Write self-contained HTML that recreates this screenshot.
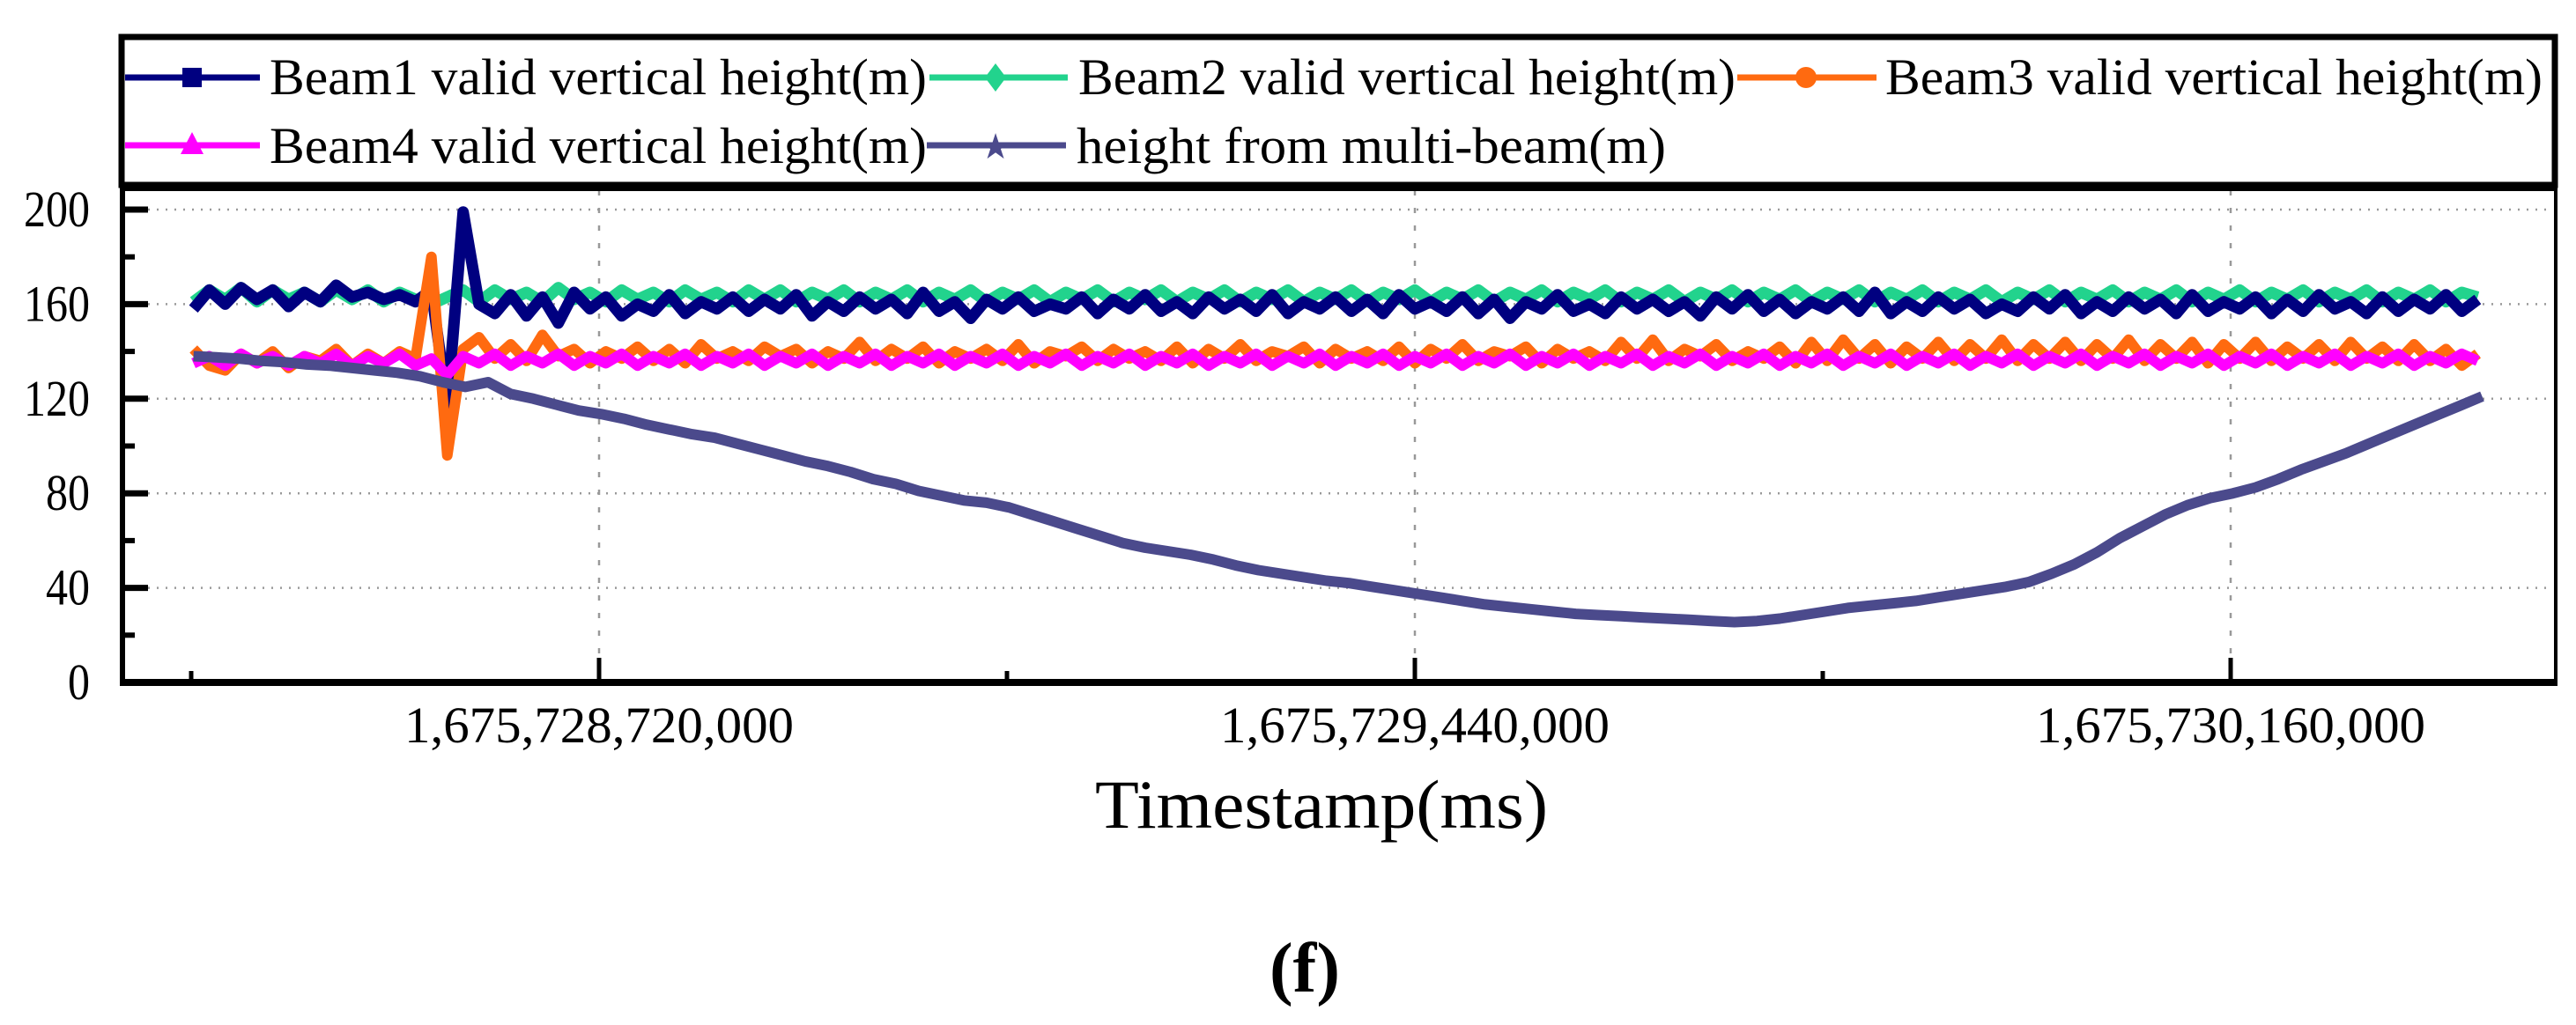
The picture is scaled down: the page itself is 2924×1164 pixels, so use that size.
<!DOCTYPE html>
<html><head><meta charset="utf-8"><style>
html,body{margin:0;padding:0;background:#fff;}
svg{display:block;}
text{font-family:"Liberation Serif",serif;fill:#000;}
</style></head><body>
<svg id="chart" width="2924" height="1164" viewBox="0 0 2924 1164">
<g id="grid"></g>
<g id="series"></g>
<g id="axes"></g>
<g id="legend">
  <rect x="138" y="42" width="2762" height="168" fill="none" stroke="#000" stroke-width="7"/>
  <g>
    <line x1="142" y1="88" x2="295" y2="88" stroke="#000080" stroke-width="7"/>
    <rect x="207" y="77" width="22" height="22" fill="#000080"/>
    <text x="306" y="107" font-size="58" textLength="746" lengthAdjust="spacingAndGlyphs">Beam1 valid vertical height(m)</text>
  </g>
  <g>
    <line x1="1055" y1="88" x2="1212" y2="88" stroke="#22d38d" stroke-width="7"/>
    <polygon points="1130,72 1142,88 1130,104 1118,88" fill="#22d38d"/>
    <text x="1224" y="107" font-size="58" textLength="746" lengthAdjust="spacingAndGlyphs">Beam2 valid vertical height(m)</text>
  </g>
  <g>
    <line x1="1972" y1="88" x2="2130" y2="88" stroke="#ff6a10" stroke-width="7"/>
    <circle cx="2050" cy="88" r="12" fill="#ff6a10"/>
    <text x="2140" y="107" font-size="58" textLength="746" lengthAdjust="spacingAndGlyphs">Beam3 valid vertical height(m)</text>
  </g>
  <g>
    <line x1="142" y1="165" x2="295" y2="165" stroke="#ff00ff" stroke-width="7"/>
    <polygon points="218,150 231,175 205,175" fill="#ff00ff"/>
    <text x="306" y="185" font-size="58" textLength="746" lengthAdjust="spacingAndGlyphs">Beam4 valid vertical height(m)</text>
  </g>
  <g>
    <line x1="1052" y1="165" x2="1210" y2="165" stroke="#4b4a8c" stroke-width="7"/>
    <text x="1130" y="180" font-size="40" text-anchor="middle" style="fill:#4b4a8c">★</text>
    <text x="1222" y="185" font-size="58" textLength="669" lengthAdjust="spacingAndGlyphs">height from multi-beam(m)</text>
  </g>
</g>
<text x="1500" y="940" font-size="78" text-anchor="middle" textLength="514" lengthAdjust="spacingAndGlyphs">Timestamp(ms)</text>
<text x="1481" y="1126" font-size="80" font-weight="bold" text-anchor="middle">(f)</text>
</svg>
<script>
const xTickValues = [1675728720000, 1675729440000, 1675730160000];
const xTickLabels = ["1,675,728,720,000", "1,675,729,440,000", "1,675,730,160,000"];
const xMinorTickValues = [1675728360000, 1675729080000, 1675729800000];
const yTickValues = [0, 40, 80, 120, 160, 200];
const yMinorTickValues = [20, 60, 100, 140, 180];
const tBase = 1675728360000;
const tBeamSec = [2,16,30,44,58,72,86,100,114,128,142,156,170,184,198,212,226,240,254,268,282,296,310,324,338,352,366,380,394,408,422,436,450,464,478,492,506,520,534,548,562,576,590,604,618,632,646,660,674,688,702,716,730,744,758,772,786,800,814,828,842,856,870,884,898,912,926,940,954,968,982,996,1010,1024,1038,1052,1066,1080,1094,1108,1122,1136,1150,1164,1178,1192,1206,1220,1234,1248,1262,1276,1290,1304,1318,1332,1346,1360,1374,1388,1402,1416,1430,1444,1458,1472,1486,1500,1514,1528,1542,1556,1570,1584,1598,1612,1626,1640,1654,1668,1682,1696,1710,1724,1738,1752,1766,1780,1794,1808,1822,1836,1850,1864,1878,1892,1906,1920,1934,1948,1962,1976,1990,2004,2018];
const beam1 = [158,166,160,167,162,166,159,165,161,168,163,165,162,164,161,166,117,199,160,156,164,155,163,152,165,158,163,155,160,157,164,156,161,158,163,157,162,158,164,155,161,157,163,158,162,156,165,157,161,154,162,158,163,157,160,158,163,156,162,158,164,157,161,156,163,158,162,157,164,156,161,158,163,157,162,156,164,158,161,157,163,156,162,154,161,158,164,157,160,156,163,158,162,157,161,155,163,158,164,157,162,156,161,158,163,157,165,156,161,157,163,158,162,156,160,157,163,158,164,156,161,157,163,158,162,156,164,157,161,158,163,156,162,157,164,158,161,156,163,157,162,158,164,157,162];
const beam2 = [161,166,162,167,161,166,162,165,161,166,162,166,161,165,162,160,163,166,161,166,162,165,161,167,162,165,161,166,162,165,161,166,162,165,161,166,162,166,161,165,162,166,161,165,162,166,161,165,162,166,161,165,162,166,161,165,162,166,161,165,162,166,161,165,162,166,161,165,162,166,161,165,162,166,161,165,162,166,161,165,162,166,161,165,162,166,161,165,162,166,161,165,162,166,161,165,162,166,161,165,162,166,161,165,162,166,161,165,162,166,161,165,162,166,161,165,162,166,161,165,162,166,161,165,162,166,161,165,162,166,161,165,162,166,161,165,162,166,161,165,162,166,161,165,163];
const beam3 = [141,134,132,139,135,140,133,138,136,141,134,139,135,140,137,180,96,141,146,137,143,136,147,138,141,135,140,137,142,136,141,135,143,137,140,136,142,138,141,135,140,137,144,136,141,137,142,135,140,137,141,136,143,135,140,138,142,136,141,137,140,136,142,135,141,137,143,136,140,138,142,135,141,137,140,136,142,135,141,137,143,136,140,138,142,135,141,137,140,136,144,137,145,136,141,138,143,136,140,137,142,135,144,136,145,137,143,135,142,137,144,136,143,137,145,136,143,137,144,136,143,137,145,136,143,137,144,135,143,137,144,136,142,137,143,136,144,137,142,136,143,136,141,134,139];
const beam4 = [135,138,134,139,135,138,134,138,135,139,134,138,135,139,134,137,130,138,135,139,134,138,135,139,134,138,135,139,134,138,135,139,134,138,135,139,134,138,135,139,134,138,135,139,134,138,135,139,134,138,135,139,134,138,135,139,134,138,135,139,134,138,135,139,134,138,135,139,134,138,135,139,134,138,135,139,134,138,135,139,134,138,135,139,134,138,135,139,134,138,135,139,134,138,135,139,134,138,135,139,134,138,135,139,134,138,135,139,134,138,135,139,134,138,135,139,134,138,135,139,134,138,135,139,134,138,135,139,134,138,135,139,134,138,135,139,134,138,135,139,134,138,135,139,136];
const tMultiSec = [2,22,42,62,82,102,122,142,162,182,202,222,242,262,282,302,322,342,362,382,402,422,442,462,482,502,522,542,562,582,602,622,642,662,682,702,722,742,762,782,802,822,842,862,882,902,922,942,962,982,1002,1022,1042,1062,1082,1102,1122,1142,1162,1182,1202,1222,1242,1262,1282,1302,1322,1342,1362,1382,1402,1422,1442,1462,1482,1502,1522,1542,1562,1582,1602,1622,1642,1662,1682,1702,1722,1742,1762,1782,1802,1822,1842,1862,1882,1902,1922,1942,1962,1982,2002,2022];
const multiBeam = [138,137.5,137,136,135.5,134.5,134,133,132,131,129.5,127,125,127,122,120,117.5,115,113.5,111.5,109,107,105,103.5,101,98.5,96,93.5,91.5,89,86,84,81,79,77,76,74,71,68,65,62,59,57,55.5,54,52,49.5,47.5,46,44.5,43,42,40.5,39,37.5,36,34.5,33,32,31,30,29,28.5,28,27.5,27,26.5,26,25.5,26,27,28.5,30,31.5,32.5,33.5,34.5,36,37.5,39,40.5,42.5,46,50,55,61,66,71,75,78,80,82.5,86,90,93.5,97,101,105,109,113,117,121];

const NS = "http://www.w3.org/2000/svg";
const X0 = 217, PX_PER_MS = 926/720000;
const Y0 = 775, PX_PER_UNIT = 537/200;
function xScale(t){ return X0 + (t - 1675728360000) * PX_PER_MS; }
function yScale(v){ return Y0 - v * PX_PER_UNIT; }
function mk(tag, attrs, parent){ const e=document.createElementNS(NS,tag); for(const k in attrs) e.setAttribute(k,attrs[k]); parent.appendChild(e); return e; }

const grid = document.getElementById('grid');
const axes = document.getElementById('axes');
const series = document.getElementById('series');

yTickValues.forEach(v=>{
  if(v===0) return;
  const l = mk('line',{x1:168,x2:2898,y1:yScale(v),y2:yScale(v),stroke:'#999','stroke-width':2.5,'stroke-dasharray':'2 8'},grid);
  
  
});
xTickValues.forEach(v=>{
  const l = mk('line',{x1:xScale(v),x2:xScale(v),y1:216,y2:745,stroke:'#999','stroke-width':2.5,'stroke-dasharray':'6 14'},grid);
  
  
});

function drawSeries(times, vals, color, width, name){
  const n = Math.min(times.length, vals.length);
  let d='';
  for(let i=0;i<n;i++){ d += (i?'L':'M') + xScale(tBase + times[i]*1000).toFixed(1) + ',' + yScale(vals[i]).toFixed(1); }
  const p = mk('path',{d:d,fill:'none',stroke:color,'stroke-width':width,'stroke-linejoin':'round'},series);
  
  
}
drawSeries(tBeamSec, beam2, '#22d38d', 13, 'beam2-line');
drawSeries(tBeamSec, beam1, '#000080', 13, 'beam1-line');
drawSeries(tBeamSec, beam3, '#ff6a10', 12, 'beam3-line');
drawSeries(tBeamSec, beam4, '#ff00ff', 12, 'beam4-line');
drawSeries(tMultiSec, multiBeam, '#4b4a8c', 12, 'multibeam-line');

let f = mk('line',{x1:139,x2:2903,y1:213,y2:213,stroke:'#000','stroke-width':8},axes);
 
f = mk('line',{x1:2901,x2:2901,y1:213,y2:778,stroke:'#000','stroke-width':4},axes);
 
f = mk('line',{x1:139,x2:139,y1:210,y2:779,stroke:'#000','stroke-width':6},axes);
 
f = mk('line',{x1:136,x2:2903,y1:775,y2:775,stroke:'#000','stroke-width':8},axes);
 

yTickValues.forEach(v=>{
  const t = mk('line',{x1:139,x2:168,y1:yScale(v),y2:yScale(v),stroke:'#000','stroke-width':7},axes);
  
  
  const s = String(v);
  const lab = mk('text',{x:102,y:yScale(v)+19,'font-size':58,'text-anchor':'end',textLength:s.length*25,lengthAdjust:'spacingAndGlyphs'},axes);
  lab.textContent = s;
  
  
});
yMinorTickValues.forEach(v=>{
  const t = mk('line',{x1:139,x2:153,y1:yScale(v),y2:yScale(v),stroke:'#000','stroke-width':6},axes);
  
  
});
xTickValues.forEach((v,i)=>{
  const t = mk('line',{x1:xScale(v),x2:xScale(v),y1:747,y2:775,stroke:'#000','stroke-width':5},axes);
  
  
  const lab = mk('text',{x:xScale(v),y:843,'font-size':58,'text-anchor':'middle',textLength:442,lengthAdjust:'spacingAndGlyphs'},axes);
  lab.textContent = xTickLabels[i];
  
  
});
xMinorTickValues.forEach(v=>{
  const t = mk('line',{x1:xScale(v),x2:xScale(v),y1:762,y2:775,stroke:'#000','stroke-width':5},axes);
  
  
});
</script>
</body></html>
